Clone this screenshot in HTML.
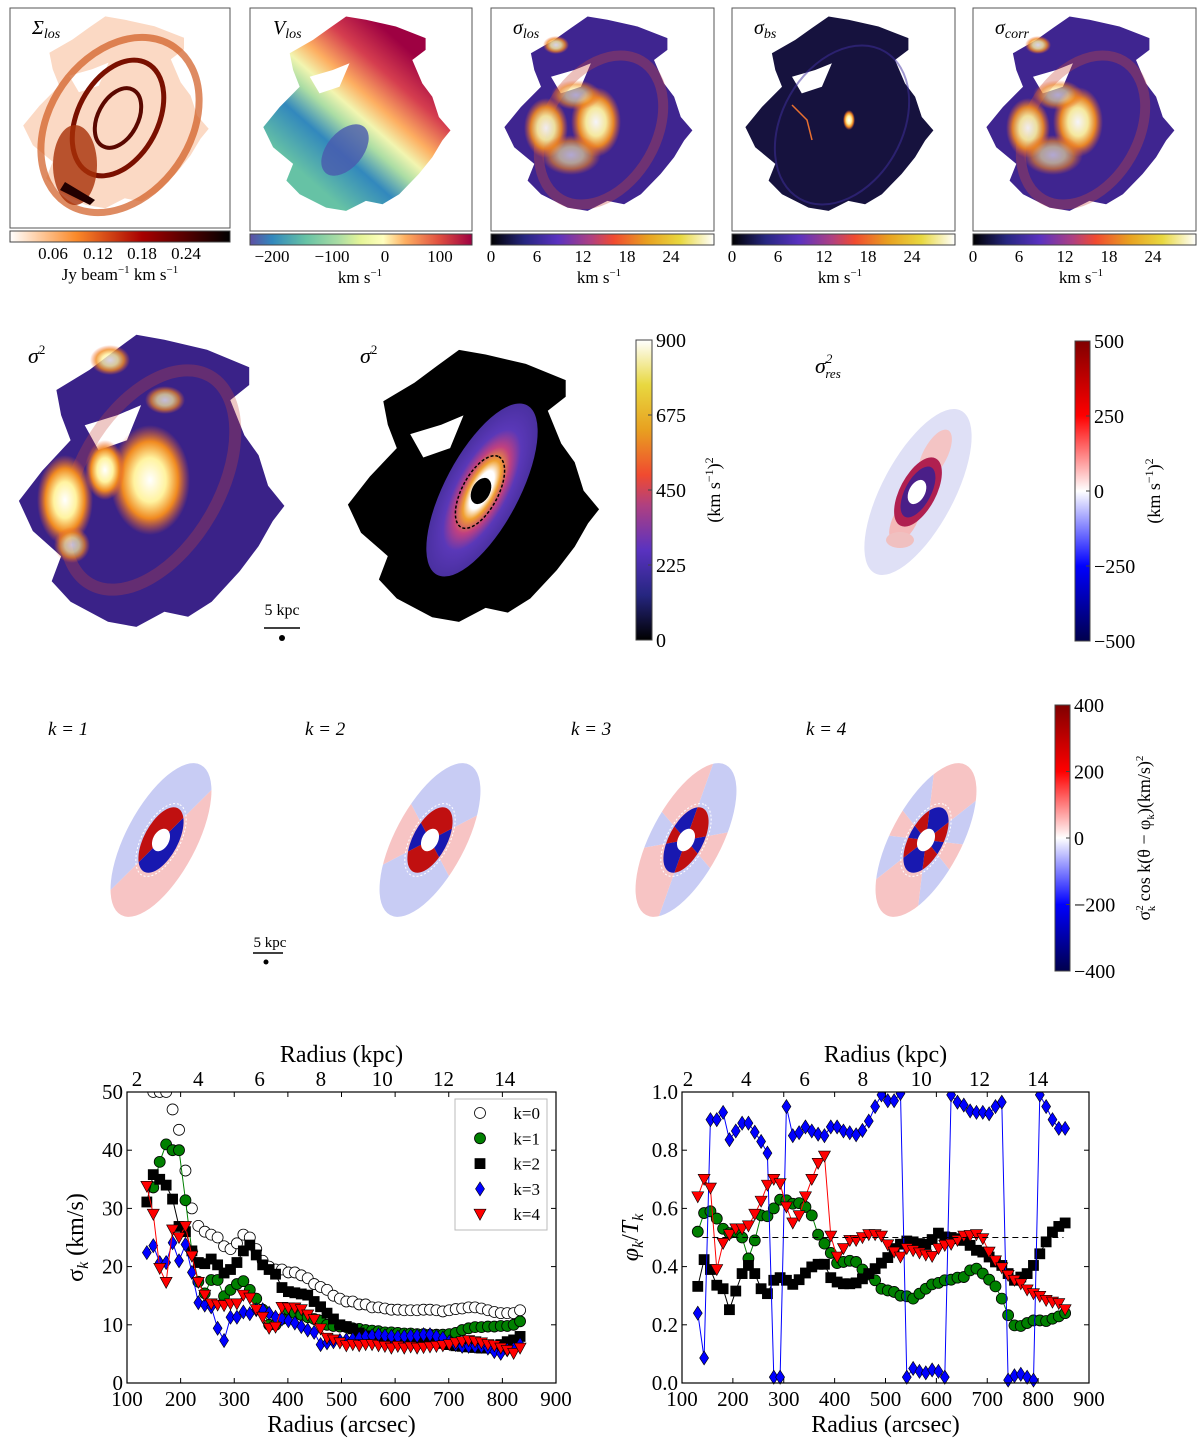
<!DOCTYPE html>
<html><head><meta charset="utf-8">
<style>
body{margin:0;background:#fff;}
svg{display:block;font-family:"Liberation Serif","DejaVu Serif",serif;}
</style></head>
<body>
<svg id="fig" width="1200" height="1449" viewBox="0 0 1200 1449" xmlns="http://www.w3.org/2000/svg">
<defs>
<linearGradient id="gSig" x1="0" x2="1" y1="0" y2="0">
<stop offset="0" stop-color="#fff"/><stop offset="0.3" stop-color="#fb8a2a"/><stop offset="0.6" stop-color="#a80000"/><stop offset="1" stop-color="#000"/></linearGradient>
<linearGradient id="gV" x1="0" x2="1" y1="0" y2="0">
<stop offset="0" stop-color="#5e4fa2"/><stop offset="0.1" stop-color="#3288bd"/><stop offset="0.25" stop-color="#66c2a5"/><stop offset="0.4" stop-color="#abdda4"/><stop offset="0.5" stop-color="#e6f598"/><stop offset="0.6" stop-color="#ffffbf"/><stop offset="0.7" stop-color="#fdae61"/><stop offset="0.85" stop-color="#e05040"/><stop offset="1" stop-color="#9e0142"/></linearGradient>
<linearGradient id="gCM" x1="0" x2="1" y1="0" y2="0">
<stop offset="0" stop-color="#000"/><stop offset="0.15" stop-color="#262680"/><stop offset="0.3" stop-color="#5a32c0"/><stop offset="0.45" stop-color="#b04080"/><stop offset="0.55" stop-color="#f04a30"/><stop offset="0.7" stop-color="#e8a020"/><stop offset="0.85" stop-color="#e8d840"/><stop offset="1" stop-color="#fff"/></linearGradient>
<linearGradient id="gCMv" x1="0" x2="0" y1="1" y2="0">
<stop offset="0" stop-color="#000"/><stop offset="0.15" stop-color="#262680"/><stop offset="0.3" stop-color="#5a32c0"/><stop offset="0.45" stop-color="#b04080"/><stop offset="0.55" stop-color="#f04a30"/><stop offset="0.7" stop-color="#e8a020"/><stop offset="0.85" stop-color="#e8d840"/><stop offset="1" stop-color="#fff"/></linearGradient>
<linearGradient id="gSeis" x1="0" x2="0" y1="1" y2="0">
<stop offset="0" stop-color="#00004c"/><stop offset="0.25" stop-color="#0000ff"/><stop offset="0.5" stop-color="#fff"/><stop offset="0.75" stop-color="#ff0000"/><stop offset="1" stop-color="#800000"/></linearGradient>
<linearGradient id="gVmap" x1="0.2" y1="0.8" x2="0.75" y2="0.15">
<stop offset="0" stop-color="#66c2a5"/><stop offset="0.25" stop-color="#3288bd"/><stop offset="0.4" stop-color="#abdda4"/><stop offset="0.5" stop-color="#f2f5b0"/><stop offset="0.62" stop-color="#fdae61"/><stop offset="0.8" stop-color="#d53e4f"/><stop offset="1" stop-color="#9e0142"/></linearGradient>
<radialGradient id="gHot"><stop offset="0" stop-color="#fff"/><stop offset="0.4" stop-color="#fff3a0"/><stop offset="0.7" stop-color="#f08a20"/><stop offset="1" stop-color="#f06030" stop-opacity="0"/></radialGradient>
<radialGradient id="gRing" cx="0.5" cy="0.5" r="0.5">
<stop offset="0" stop-color="#fff"/><stop offset="0.22" stop-color="#fff"/><stop offset="0.34" stop-color="#f0a030"/><stop offset="0.5" stop-color="#c04080"/><stop offset="0.7" stop-color="#5a38b8"/><stop offset="1" stop-color="#4a30a0"/></radialGradient>
</defs>
<g id="maps"></g>
<g id="charts"></g>
</svg>
<script>
// ---------------- chart data ----------------
const radiusStart = 137;
const radiusStep = 12;
const nPoints = 59;
const sigmaK0 = [52,50,50,50,47,43.5,36.5,30,27,26,25.5,25,23.5,23,24,25.5,25,23,21,20,19.5,19.5,19,19,18.5,18,17,16.5,16,15,14.5,14,14,13.5,13.5,13,13,12.8,12.6,12.6,12.5,12.5,12.5,12.6,12.6,12.5,12.3,12.5,12.7,12.8,13,13,12.8,12.5,12.2,12,12,12,12.5];
const sigmaK1 = [null,33.6,38,41,40,40,31.4,22.6,17.4,15.4,17.7,17.7,14.9,16,17,17.5,16,14.5,12.6,10,10,11,12.6,12,11.7,11.3,11,10.7,10,9.8,9.7,9.6,9.4,9.3,9.1,9,8.9,8.7,8.7,8.6,8.5,8.5,8.4,8.4,8.3,8.3,8.3,8.4,8.6,9.1,9.4,9.6,9.6,9.7,9.7,9.8,9.8,10,10.6];
const sigmaK2 = [31.1,35.8,35,34,31.6,26.9,26,22.7,20.7,20.5,21.3,20.3,18.9,19.5,20.7,22.7,23.7,22,20.3,19.5,18.7,16.4,15.7,15.5,15.3,15.1,14,13.1,12,11,10,9.7,9.3,8.6,8.1,7.9,7.7,7.5,7.4,7.2,7.1,7.1,7.1,7.2,7.1,7,6.8,6.6,6.4,6.3,6.2,6.1,6,6,6.3,6.6,7.1,7.4,8];
const sigmaK3 = [22.4,23.6,20.7,20.7,24.1,21,23.8,19,13.8,13.4,13.1,9.4,7.3,11.3,11.3,12.2,11.9,12.6,12.6,12,11.3,11,10.7,10.3,9.7,9.1,8.7,6.6,6.9,7.1,7.3,7.4,7.5,7.7,8,8.1,8.3,8.1,8,7.9,8,8.1,8.1,8.3,8.3,8,7.7,7.1,6.6,6.3,6.3,6.3,6.3,6,5.4,5.1,5.7,5.8,6.6];
const sigmaK4 = [33.8,29,19.7,17.3,26.3,25,26.9,21.8,17.3,15.1,13.6,13.4,13.3,13.6,13.6,15.1,14.6,12.6,11.3,9.4,9.6,13,12.9,12.9,12.6,11.7,10.9,9.3,7.7,7.4,6.9,6.4,6.6,6.4,6.6,6.6,6.4,6.3,6,6.3,6,6.2,6,6.1,6.2,6.3,6.4,6.6,6.9,7.1,7.3,7.1,6.9,6.6,6.4,6,5.6,5.1,6];
const phiK1 = [0.52,0.584,0.59,0.565,0.53,0.515,0.52,0.5,0.428,0.49,0.576,0.573,0.6,0.63,0.628,0.616,0.618,0.605,0.576,0.51,0.479,0.447,0.412,0.416,0.42,0.416,0.39,0.373,0.353,0.324,0.318,0.313,0.3,0.298,0.29,0.307,0.324,0.339,0.344,0.353,0.355,0.362,0.364,0.387,0.393,0.376,0.355,0.332,0.29,0.233,0.198,0.196,0.206,0.215,0.215,0.213,0.221,0.229,0.24];
const phiK2 = [0.332,0.424,0.39,0.336,0.324,0.252,0.316,0.376,0.404,0.376,0.324,0.307,0.353,0.362,0.353,0.339,0.355,0.378,0.399,0.408,0.408,0.362,0.347,0.341,0.341,0.344,0.358,0.376,0.393,0.412,0.431,0.462,0.477,0.488,0.485,0.479,0.477,0.493,0.515,0.502,0.5,0.496,0.49,0.473,0.456,0.45,0.433,0.416,0.404,0.376,0.353,0.364,0.376,0.404,0.444,0.485,0.519,0.538,0.55];
const phiK3 = [0.24,0.086,0.905,0.905,0.93,0.836,0.866,0.893,0.893,0.862,0.83,0.79,0.02,0.02,0.95,0.85,0.86,0.88,0.866,0.855,0.85,0.88,0.88,0.866,0.86,0.853,0.868,0.9,0.95,0.99,0.97,0.97,0.995,0.02,0.05,0.04,0.035,0.045,0.04,0.02,0.99,0.965,0.955,0.935,0.93,0.93,0.925,0.95,0.965,0.01,0.025,0.03,0.02,0.01,0.99,0.95,0.905,0.875,0.875];
const phiK4 = [0.64,0.7,0.67,0.39,0.48,0.51,0.53,0.53,0.54,0.58,0.625,0.68,0.7,0.685,0.605,0.55,0.575,0.64,0.7,0.755,0.78,0.505,0.433,0.462,0.49,0.49,0.5,0.51,0.51,0.505,0.475,0.45,0.433,0.462,0.455,0.447,0.44,0.435,0.462,0.473,0.477,0.49,0.505,0.507,0.51,0.496,0.45,0.42,0.396,0.37,0.353,0.341,0.32,0.307,0.298,0.284,0.278,0.273,0.252];
const xTicks = [100,200,300,400,500,600,700,800,900];
const kpcTicks = [2,4,6,8,10,12,14];
const sigmaTicks = [0,10,20,30,40,50];
const phiTicks = [0.0,0.2,0.4,0.6,0.8,1.0];
const legendLabels = ["k=0","k=1","k=2","k=3","k=4"];
const radii = [];
for (let i = 0; i < nPoints; i++) radii.push(radiusStart + radiusStep * i);
// phase panel radii
const radiiPhase = [];
for (let i = 0; i < nPoints; i++) radiiPhase.push(131 + 12.45 * i);

const NS = "http://www.w3.org/2000/svg";
function mk(tag, attrs, parent, text) {
  const e = document.createElementNS(NS, tag);
  for (const k in attrs) e.setAttribute(k, attrs[k]);
  if (text !== undefined) e.textContent = text;
  parent.appendChild(e);
  return e;
}
const maps = document.getElementById('maps');
const charts = document.getElementById('charts');

const blob = [[.194,.278],[.179,.203],[.284,.143],[.358,.090],[.433,.038],[.522,.053],[.657,.083],[.791,.135],[.791,.188],[.731,.233],[.776,.338],[.821,.398],[.851,.489],[.903,.549],[.866,.594],[.821,.669],[.761,.744],[.672,.835],[.597,.880],[.522,.865],[.433,.910],[.343,.895],[.224,.835],[.164,.774],[.194,.699],[.104,.624],[.060,.534],[.134,.444],[.224,.353]];
const hole = [[.269,.308],[.373,.278],[.448,.248],[.403,.353],[.313,.383]];
function poly(pts, x, y, w, h) { return pts.map(p => (x + p[0] * w).toFixed(1) + ',' + (y + p[1] * h).toFixed(1)).join(' '); }

function frame(x, y, w, h, name) {
  const r = mk('rect', {x: x, y: y, width: w, height: h, fill: 'none', stroke: '#555', 'stroke-width': 1}, maps);
  
  
}
function hbar(x, y, w, h, grad, ticks, labelsX, label, labelX, name) {
  const r = mk('rect', {x: x, y: y, width: w, height: h, fill: 'url(#' + grad + ')', stroke: '#444', 'stroke-width': 1}, maps);
  
  
  ticks.forEach((t, i) => {
    const tx = mk('text', {x: labelsX[i], y: y + h + 17, 'font-size': 17, 'text-anchor': 'middle'}, maps, t);
    
    
  });
  const lt = mk('text', {x: labelX, y: y + h + 38, 'font-size': 17, 'text-anchor': 'middle'}, maps);
  lt.innerHTML = label;
  
  
}
function title(x, y, html, name, size) {
  const t = mk('text', {x: x, y: y, 'font-size': size || 20, 'font-style': 'italic'}, maps);
  t.innerHTML = html;
  
  
}
function blobAt(x, y, w, h, fill, name) {
  const p = mk('polygon', {points: poly(blob, x, y, w, h), fill: fill}, maps);
  
  
  mk('polygon', {points: poly(hole, x, y, w, h), fill: '#fff'}, maps);
}
function hot(cx, cy, rx, ry, op) { mk('ellipse', {cx: cx, cy: cy, rx: rx, ry: ry, fill: 'url(#gHot)', opacity: op || 1}, maps); }

// ---- top row ----
frame(10, 8, 220, 220, 'sigma-los-map');
blobAt(10, 8, 220, 220, '#fbd9c4', 'surface-density-blob');
mk('ellipse', {cx: 118, cy: 118, rx: 40, ry: 62, transform: 'rotate(28 118 118)', fill: 'none', stroke: '#7a1000', 'stroke-width': 5}, maps);
mk('ellipse', {cx: 118, cy: 118, rx: 20, ry: 32, transform: 'rotate(28 118 118)', fill: 'none', stroke: '#5a0800', 'stroke-width': 4}, maps);
mk('ellipse', {cx: 120, cy: 125, rx: 70, ry: 95, transform: 'rotate(35 120 125)', fill: 'none', stroke: '#d05a20', 'stroke-width': 7, opacity: 0.7}, maps);
mk('ellipse', {cx: 75, cy: 165, rx: 22, ry: 40, fill: '#a83008', opacity: 0.8}, maps);
mk('polygon', {points: '60,190 90,205 95,200 65,182', fill: '#200'}, maps);
title(32, 34, 'Σ<tspan font-size="14" dy="4">los</tspan>', 'title-sigma-surface');
hbar(10, 231, 220, 11, 'gSig', ['0.06','0.12','0.18','0.24'], [53,98,142,186], 'Jy beam<tspan font-size="11" dy="-7">−1</tspan><tspan dy="7"> km s</tspan><tspan font-size="11" dy="-7">−1</tspan>', 120, 'colorbar-surface-density');
frame(250, 8, 222, 223, 'vlos-map');
blobAt(250, 8, 222, 223, 'url(#gVmap)', 'velocity-blob');
mk('ellipse', {cx: 345, cy: 150, rx: 18, ry: 30, transform: 'rotate(40 345 150)', fill: '#4a5aae', opacity: 0.8}, maps);
title(273, 34, 'V<tspan font-size="14" dy="4">los</tspan>', 'title-vlos');
hbar(250, 234, 222, 11, 'gV', ['−200','−100','0','100'], [272,332,385,440], 'km s<tspan font-size="11" dy="-7">−1</tspan>', 360, 'colorbar-velocity');
const sigPanels = [[491, 'σ', 'los', 'sigma-los'], [732, 'σ', 'bs', 'sigma-bs'], [973, 'σ', 'corr', 'sigma-corr']];
sigPanels.forEach((p, idx) => {
  const x = p[0];
  frame(x, 8, 223, 223, p[3] + '-map');
  blobAt(x, 8, 223, 223, idx === 1 ? '#16123e' : '#3f2590', p[3] + '-blob');
  if (idx !== 1) {
    mk('ellipse', {cx: x + 110, cy: 130, rx: 55, ry: 80, transform: 'rotate(30 ' + (x + 110) + ' 130)', fill: 'none', stroke: '#c84a40', 'stroke-width': 10, opacity: 0.35}, maps);
    hot(x + 55, 128, 22, 30, 0.9);
    hot(x + 105, 122, 25, 35, 0.95);
    hot(x + 80, 155, 30, 20, 0.6);
    hot(x + 85, 95, 25, 15, 0.6);
    hot(x + 65, 45, 13, 9, 0.8);
  } else {
    mk('ellipse', {cx: x + 110, cy: 125, rx: 60, ry: 85, transform: 'rotate(30 ' + (x + 110) + ' 125)', fill: 'none', stroke: '#4030a0', 'stroke-width': 2, opacity: 0.5}, maps);
    mk('polyline', {points: (x + 60) + ',105 ' + (x + 75) + ',120 ' + (x + 80) + ',140', fill: 'none', stroke: '#e87030', 'stroke-width': 1.5}, maps);
    hot(x + 117, 120, 6, 10);
  }
  title(x + 22, 34, p[1] + '<tspan font-size="14" dy="4">' + p[2] + '</tspan>', 'title-' + p[3]);
  hbar(x, 234, 223, 11, 'gCM', ['0','6','12','18','24'], [x, x + 46, x + 92, x + 136, x + 180], 'km s<tspan font-size="11" dy="-7">−1</tspan>', x + 108, 'colorbar-' + p[3]);
});

// ---- middle row ----
blobAt(0, 322, 315, 335, '#3a2288', 'sigma2-observed-blob');
mk('ellipse', {cx: 150, cy: 480, rx: 70, ry: 120, transform: 'rotate(30 150 480)', fill: 'none', stroke: '#c84a40', 'stroke-width': 12, opacity: 0.3}, maps);
hot(150, 480, 40, 55); hot(65, 500, 28, 45); hot(105, 470, 20, 30); hot(72, 545, 18, 18, 0.7);
hot(110, 360, 20, 15, 0.8); hot(165, 400, 20, 14, 0.7);
title(28, 363, 'σ<tspan font-size="13" dy="-9" font-style="normal">2</tspan>', 'title-sigma2-observed', 22);
mk('text', {x: 282, y: 615, 'font-size': 16, 'text-anchor': 'middle'}, maps, '5 kpc');
mk('line', {x1: 264, y1: 628, x2: 300, y2: 628, stroke: '#000', 'stroke-width': 1.5}, maps);
mk('circle', {cx: 282, cy: 638, r: 3, fill: '#000'}, maps);
blobAt(330, 338, 298, 312, '#000', 'sigma2-model-blob');
mk('ellipse', {cx: 482, cy: 490, rx: 96, ry: 37, transform: 'rotate(-62 482 490)', fill: 'url(#gRing)'}, maps);
mk('ellipse', {cx: 480, cy: 492, rx: 40, ry: 18, transform: 'rotate(-62 480 492)', fill: 'none', stroke: '#000', 'stroke-width': 1.5, 'stroke-dasharray': '3 2'}, maps);
mk('ellipse', {cx: 481, cy: 491, rx: 14, ry: 9, transform: 'rotate(-62 481 491)', fill: '#000'}, maps);
title(360, 363, 'σ<tspan font-size="13" dy="-9" font-style="normal">2</tspan>', 'title-sigma2-model', 22);
function vbar(x, y, w, h, grad, ticks, name, lab, labX) {
  const r = mk('rect', {x: x, y: y, width: w, height: h, fill: 'url(#' + grad + ')', stroke: '#444', 'stroke-width': 1}, maps);
  
  
  ticks.forEach((t, i) => {
    const ty = y + h - i * h / (ticks.length - 1);
    mk('line', {x1: x + w - 4, y1: ty, x2: x + w, y2: ty, stroke: '#444'}, maps);
    const tx = mk('text', {x: x + w + 4, y: ty + 7, 'font-size': 20}, maps, t);
    
    
  });
  const lt = mk('text', {x: labX, y: y + h / 2, 'font-size': 18, 'text-anchor': 'middle', transform: 'rotate(-90 ' + labX + ' ' + (y + h / 2) + ')'}, maps);
  lt.innerHTML = lab;
  
  
}
vbar(636, 340, 16, 300, 'gCMv', ['0','225','450','675','900'], 'colorbar-sigma2', '(km s<tspan font-size="12" dy="-7">−1</tspan><tspan dy="7">)</tspan><tspan font-size="12" dy="-7">2</tspan>', 720);
mk('ellipse', {cx: 918, cy: 492, rx: 92, ry: 36, transform: 'rotate(-62 918 492)', fill: '#dfe0f6'}, maps);
mk('ellipse', {cx: 905, cy: 520, rx: 25, ry: 12, transform: 'rotate(-62 905 520)', fill: '#f4b8b8'}, maps);
mk('ellipse', {cx: 935, cy: 455, rx: 28, ry: 12, transform: 'rotate(-62 935 455)', fill: '#f4c4c4'}, maps);
mk('ellipse', {cx: 900, cy: 540, rx: 14, ry: 8, fill: '#f0c0c0'}, maps);
mk('ellipse', {cx: 918, cy: 492, rx: 38, ry: 18, transform: 'rotate(-62 918 492)', fill: '#b02050'}, maps);
mk('ellipse', {cx: 918, cy: 492, rx: 28, ry: 13, transform: 'rotate(-62 918 492)', fill: '#2020a0', opacity: 0.7}, maps);
mk('ellipse', {cx: 917, cy: 492, rx: 13, ry: 8, transform: 'rotate(-62 917 492)', fill: '#fff'}, maps);
title(815, 373, 'σ<tspan font-size="13" dy="-10">2</tspan><tspan font-size="13" dx="-7" dy="15">res</tspan>', 'title-sigma2-residual', 22);
vbar(1075, 341, 15, 300, 'gSeis', ['−500','−250','0','250','500'], 'colorbar-residual', '(km s<tspan font-size="12" dy="-7">−1</tspan><tspan dy="7">)</tspan><tspan font-size="12" dy="-7">2</tspan>', 1160);

// ---- third row ----
const kCenters = [161, 430, 686, 926];
kCenters.forEach((cx, idx) => {
  const k = idx + 1, cy = 840;
  const g = mk('g', {transform: 'translate(' + cx + ' ' + cy + ') rotate(-62)'}, maps);
  
  
  const clipId = 'clipk' + k;
  const cp = mk('clipPath', {id: clipId}, g);
  mk('ellipse', {cx: 0, cy: 0, rx: 85, ry: 35}, cp);
  const cg = mk('g', {'clip-path': 'url(#' + clipId + ')'}, g);
  const n = 2 * k;
  for (let s = 0; s < n; s++) {
    const a0 = (s / n) * 2 * Math.PI + 0.3 * k, a1 = ((s + 1) / n) * 2 * Math.PI + 0.3 * k;
    const R = 200;
    const path = 'M0,0 L' + (R * Math.cos(a0)).toFixed(1) + ',' + (R * Math.sin(a0)).toFixed(1) + ' A' + R + ',' + R + ' 0 0 1 ' + (R * Math.cos(a1)).toFixed(1) + ',' + (R * Math.sin(a1)).toFixed(1) + ' Z';
    mk('path', {d: path, fill: s % 2 === 0 ? '#f7c4c4' : '#c8ccf4'}, cg);
  }
  const ic = 'clipki' + k;
  const cp2 = mk('clipPath', {id: ic}, g);
  mk('ellipse', {cx: 0, cy: 0, rx: 36, ry: 17}, cp2);
  const ig = mk('g', {'clip-path': 'url(#' + ic + ')'}, g);
  for (let s = 0; s < n; s++) {
    const a0 = (s / n) * 2 * Math.PI + 0.3 * k, a1 = ((s + 1) / n) * 2 * Math.PI + 0.3 * k;
    const R = 100;
    const path = 'M0,0 L' + (R * Math.cos(a0)).toFixed(1) + ',' + (R * Math.sin(a0)).toFixed(1) + ' A' + R + ',' + R + ' 0 0 1 ' + (R * Math.cos(a1)).toFixed(1) + ',' + (R * Math.sin(a1)).toFixed(1) + ' Z';
    mk('path', {d: path, fill: s % 2 === 0 ? '#1818b0' : '#c01010'}, ig);
  }
  mk('ellipse', {cx: 0, cy: 0, rx: 40, ry: 19, fill: 'none', stroke: '#fff', 'stroke-width': 1, 'stroke-dasharray': '2 2'}, g);
  mk('ellipse', {cx: 0, cy: 0, rx: 12, ry: 8, fill: '#fff'}, g);
  const t = mk('text', {x: [48, 305, 571, 806][idx], y: 735, 'font-size': 19, 'font-style': 'italic'}, maps, 'k = ' + k);
  
  
});
mk('text', {x: 270, y: 947, 'font-size': 15, 'text-anchor': 'middle'}, maps, '5 kpc');
mk('line', {x1: 253, y1: 953, x2: 283, y2: 953, stroke: '#000', 'stroke-width': 1.5}, maps);
mk('circle', {cx: 266, cy: 962, r: 2.5, fill: '#000'}, maps);
vbar(1055, 705, 15, 266, 'gSeis', ['−400','−200','0','200','400'], 'colorbar-harmonics', 'σ<tspan font-size="11" dy="-7">2</tspan><tspan font-size="11" dx="-6" dy="12">k</tspan><tspan dy="-5"> cos k(θ − φ</tspan><tspan font-size="11" dy="4">k</tspan><tspan dy="-4">)(km/s)</tspan><tspan font-size="11" dy="-7">2</tspan>', 1150);

// ---------------- line charts ----------------
function drawChart(box, ymin, ymax, yTicks, yFmt, kpc0, kpcStep, rad, series, ylabel, name) {
  const X = v => box.x + (v - 100) / 800 * box.w;
  const Y = v => box.y + box.h - (v - ymin) / (ymax - ymin) * box.h;
  const g = mk('g', {}, charts);
  
  
  const cid = name + '-clip';
  const cp = mk('clipPath', {id: cid}, g);
  mk('rect', {x: box.x - 6, y: box.y, width: box.w + 12, height: box.h + 6}, cp);
  xTicks.forEach(t => {
    mk('line', {x1: X(t), y1: box.y + box.h, x2: X(t), y2: box.y + box.h - 5, stroke: '#000'}, g);
    mk('line', {x1: X(t), y1: box.y, x2: X(t), y2: box.y + 5, stroke: '#000'}, g);
    const tx = mk('text', {x: X(t), y: box.y + box.h + 23, 'font-size': 21, 'text-anchor': 'middle'}, g, String(t));
    
    
  });
  kpcTicks.forEach((t, i) => {
    const px = kpc0 + i * kpcStep;
    const tx = mk('text', {x: px, y: box.y - 6, 'font-size': 21, 'text-anchor': 'middle'}, g, String(t));
    
    
  });
  yTicks.forEach(t => {
    mk('line', {x1: box.x, y1: Y(t), x2: box.x + 5, y2: Y(t), stroke: '#000'}, g);
    mk('line', {x1: box.x + box.w, y1: Y(t), x2: box.x + box.w - 5, y2: Y(t), stroke: '#000'}, g);
    const tx = mk('text', {x: box.x - 4, y: Y(t) + 7, 'font-size': 21, 'text-anchor': 'end'}, g, yFmt(t));
    
    
  });
  const xl = mk('text', {x: box.x + box.w / 2, y: box.y + box.h + 49, 'font-size': 24, 'text-anchor': 'middle'}, g, 'Radius (arcsec)');
  
  
  const tl = mk('text', {x: box.x + box.w / 2, y: box.y - 30, 'font-size': 24, 'text-anchor': 'middle'}, g, 'Radius (kpc)');
  
  
  const yl = mk('text', {x: 0, y: 0, 'font-size': 24, 'text-anchor': 'middle', transform: 'translate(' + (box.x - 44) + ' ' + (box.y + box.h / 2) + ') rotate(-90)'}, g);
  yl.innerHTML = ylabel;
  
  
  const pg = mk('g', {'clip-path': 'url(#' + cid + ')'}, g);
  series.forEach(s => {
    const sg = mk('g', {}, pg);
    
    
    if (s.line) {
      let d = '';
      s.vals.forEach((v, i) => { if (v !== null) d += (d ? 'L' : 'M') + X(rad[i]).toFixed(1) + ',' + Y(v).toFixed(1); });
      mk('path', {d: d, fill: 'none', stroke: s.color, 'stroke-width': 1}, sg);
    }
    s.vals.forEach((v, i) => {
      if (v === null) return;
      const m = marker(s.shape, X(rad[i]), Y(v), s.face, sg);
      
      
    });
  });
  if (name === 'phase-chart') {
    const dl = mk('line', {x1: X(140), y1: Y(0.5), x2: X(850), y2: Y(0.5), stroke: '#000', 'stroke-dasharray': '6 4', 'stroke-width': 1}, g);
    
    
  }
  mk('rect', {x: box.x, y: box.y, width: box.w, height: box.h, fill: 'none', stroke: '#000', 'stroke-width': 1.2}, g);
  return {X: X, Y: Y, g: g};
}
function marker(shape, x, y, face, parent) {
  if (shape === 'o') return mk('circle', {cx: x, cy: y, r: 5.5, fill: face, stroke: '#000', 'stroke-width': 0.8}, parent);
  if (shape === 's') return mk('rect', {x: x - 5, y: y - 5, width: 10, height: 10, fill: face, stroke: '#000', 'stroke-width': 0.8}, parent);
  if (shape === 'd') return mk('polygon', {points: x + ',' + (y - 7) + ' ' + (x + 4.5) + ',' + y + ' ' + x + ',' + (y + 7) + ' ' + (x - 4.5) + ',' + y, fill: face, stroke: '#000', 'stroke-width': 0.6}, parent);
  return mk('polygon', {points: (x - 6) + ',' + (y - 5) + ' ' + (x + 6) + ',' + (y - 5) + ' ' + x + ',' + (y + 6), fill: face, stroke: '#000', 'stroke-width': 0.6}, parent);
}
drawChart({x: 127, y: 1092, w: 429, h: 291}, 0, 50, sigmaTicks, t => String(t), 137, 61.3, radii, [
  {key: 'k0', vals: sigmaK0, shape: 'o', face: '#fff', color: '#000', line: false},
  {key: 'k1', vals: sigmaK1, shape: 'o', face: '#008000', color: '#008000', line: true},
  {key: 'k2', vals: sigmaK2, shape: 's', face: '#000', color: '#000', line: true},
  {key: 'k3', vals: sigmaK3, shape: 'd', face: '#0000ff', color: '#0000ff', line: true},
  {key: 'k4', vals: sigmaK4, shape: 'v', face: '#ff0000', color: '#ff0000', line: true}
], 'σ<tspan font-size="16" dy="5" font-style="italic">k</tspan><tspan dy="-5"> (km/s)</tspan>', 'sigma-chart');
const lg = mk('g', {}, charts);


mk('rect', {x: 455, y: 1099, width: 92, height: 131, fill: '#fff', stroke: '#bbb'}, lg);
const legShapes = [['o', '#fff'], ['o', '#008000'], ['s', '#000'], ['d', '#0000ff'], ['v', '#ff0000']];
legendLabels.forEach((l, i) => {
  const yy = 1113 + i * 25.3;
  marker(legShapes[i][0], 480, yy, legShapes[i][1], lg);
  const t = mk('text', {x: 540, y: yy + 6, 'font-size': 17, 'text-anchor': 'end'}, lg, l);
  
  
});
drawChart({x: 682, y: 1092, w: 407, h: 291}, 0, 1, phiTicks, t => t.toFixed(1), 688, 58.3, radiiPhase, [
  {key: 'k1', vals: phiK1, shape: 'o', face: '#008000', color: '#008000', line: true},
  {key: 'k2', vals: phiK2, shape: 's', face: '#000', color: '#000', line: true},
  {key: 'k3', vals: phiK3, shape: 'd', face: '#0000ff', color: '#0000ff', line: true},
  {key: 'k4', vals: phiK4, shape: 'v', face: '#ff0000', color: '#ff0000', line: true}
], '<tspan font-style="italic">φ</tspan><tspan font-size="16" dy="5" font-style="italic">k</tspan><tspan dy="-5">/</tspan><tspan font-style="italic">T</tspan><tspan font-size="16" dy="5" font-style="italic">k</tspan>', 'phase-chart');
</script>
</body></html>
